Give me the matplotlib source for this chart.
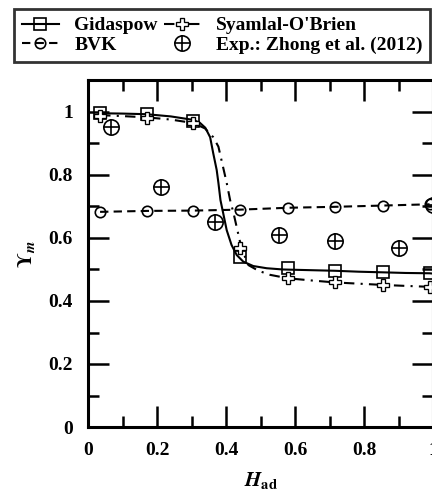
import matplotlib
matplotlib.use("Agg")
import matplotlib.pyplot as plt
from matplotlib.lines import Line2D
from matplotlib.legend_handler import HandlerTuple
from matplotlib.ticker import MultipleLocator, FuncFormatter

plt.rcParams['font.family'] = ['Liberation Serif', 'DejaVu Serif']
plt.rcParams['font.weight'] = 'bold'
plt.rcParams['mathtext.fontset'] = 'stix'

# ---- data ----
marker_x = [0.035, 0.17, 0.305, 0.44, 0.58, 0.715, 0.855, 0.99]
gidaspow_mk = [0.996, 0.993, 0.973, 0.539, 0.504, 0.496, 0.491, 0.488]
syamlal_mk = [0.988, 0.982, 0.964, 0.567, 0.472, 0.459, 0.451, 0.445]
bvk_mk = [0.683, 0.686, 0.687, 0.690, 0.696, 0.699, 0.703, 0.707]

gidaspow_x = [0.035, 0.10, 0.17, 0.24, 0.305, 0.325, 0.340, 0.354, 0.363, 0.373,
              0.378, 0.384, 0.392, 0.402, 0.416, 0.431, 0.450, 0.479, 0.518,
              0.566, 0.64, 0.715, 0.785, 0.855, 0.92, 0.99, 1.0]
gidaspow_y = [0.996, 0.995, 0.993, 0.986, 0.975, 0.965, 0.950, 0.920, 0.869, 0.816,
              0.775, 0.720, 0.678, 0.625, 0.578, 0.546, 0.525, 0.511, 0.504,
              0.500, 0.498, 0.496, 0.493, 0.491, 0.489, 0.488, 0.487]

syamlal_x = [0.035, 0.10, 0.17, 0.24, 0.305, 0.339, 0.363, 0.378, 0.388, 0.402,
             0.412, 0.422, 0.433, 0.445, 0.465, 0.494, 0.528, 0.58, 0.65,
             0.715, 0.785, 0.855, 0.92, 0.99, 1.0]
syamlal_y = [0.990, 0.987, 0.983, 0.976, 0.965, 0.948, 0.920, 0.890, 0.842, 0.775,
             0.720, 0.678, 0.625, 0.567, 0.514, 0.496, 0.483, 0.472, 0.465,
             0.459, 0.455, 0.451, 0.448, 0.445, 0.444]

exp_x = [0.066, 0.211, 0.368, 0.553, 0.716, 0.900, 1.0]
exp_y = [0.953, 0.761, 0.652, 0.608, 0.592, 0.568, 0.706]

labels = ["Gidaspow", "BVK", "Syamlal-O'Brien", "Exp.: Zhong et al. (2012)"]
x_ticks = [0, 0.2, 0.4, 0.6, 0.8, 1.0]
y_ticks = [0, 0.2, 0.4, 0.6, 0.8, 1.0]

# ---- figure ----
fig = plt.figure(figsize=(4.32, 4.93), dpi=100)
ax = fig.add_axes([88/432, 1-427/493, 345/432, (427-80.5)/493])

lw = 1.5
mew = 1.2
# lines
ax.plot(gidaspow_x, gidaspow_y, color='black', lw=lw, ls='-')
ax.plot(syamlal_x, syamlal_y, color='black', lw=lw, ls=(0, (5, 3, 1, 3)))
ax.plot(marker_x, bvk_mk, color='black', lw=lw, ls=(0, (4, 2.5)))
# markers
ax.plot(marker_x, gidaspow_mk, ls='none', marker='s', ms=8, mfc='none', mec='black', mew=mew)
ax.plot(marker_x, syamlal_mk, ls='none', marker='P', ms=9, mfc='white', mec='black', mew=mew*0.8)
ax.plot(marker_x, bvk_mk, ls='none', marker='o', ms=7.5, mfc='none', mec='black', mew=mew)
ax.plot(exp_x, exp_y, ls='none', marker='o', ms=11, mfc='none', mec='black', mew=mew)
ax.plot(exp_x, exp_y, ls='none', marker='+', ms=11, mec='black', mew=mew)

ax.set_xlim(0, 1)
ax.set_ylim(0, 1.1)
ax.set_xticks(x_ticks)
ax.set_yticks(y_ticks)
ax.xaxis.set_minor_locator(MultipleLocator(0.1))
ax.yaxis.set_minor_locator(MultipleLocator(0.1))
fmt = FuncFormatter(lambda v, p: ('%g' % round(v, 3)))
ax.xaxis.set_major_formatter(fmt)
ax.yaxis.set_major_formatter(fmt)
ax.tick_params(which='both', direction='in', top=True, right=True, width=1.8,
               labelsize=14, pad=11)
ax.tick_params(which='major', length=15)
ax.tick_params(which='minor', length=7.6)
for s in ax.spines.values():
    s.set_linewidth(2.2)

ax.set_xlabel(r'$H_{\mathrm{ad}}$', fontsize=15, labelpad=8)
ax.set_ylabel(r'$\Upsilon_m$', fontsize=15, labelpad=8)

# legend
h_g = Line2D([], [], color='black', lw=lw, ls='-', marker='s', ms=8, mfc='none', mew=mew)
h_b = Line2D([], [], color='black', lw=lw, ls=(0, (4, 2.5)), marker='o', ms=7.5, mfc='none', mew=mew)
h_s = Line2D([], [], color='black', lw=lw, ls=(0, (5, 3, 1, 3)), marker='P', ms=9, mfc='white', mew=mew*0.8)
h_e1 = Line2D([], [], ls='none', marker='o', ms=11, mfc='none', mec='black', mew=mew)
h_e2 = Line2D([], [], ls='none', marker='+', ms=11, mec='black', mew=mew)
leg = fig.legend([h_g, h_b, h_s, (h_e1, h_e2)], labels, ncol=2,
                 loc='upper left', bbox_to_anchor=(14/432, 1-9/493),
                 borderaxespad=0, fontsize=14, frameon=True, fancybox=False,
                 edgecolor='black', handlelength=1.9, handletextpad=0.8,
                 columnspacing=0.3, labelspacing=0.1, borderpad=0.4,
                 handler_map={tuple: HandlerTuple(ndivide=1)})
leg.get_frame().set_linewidth(2.0)

fig.savefig('out.png', dpi=100)
